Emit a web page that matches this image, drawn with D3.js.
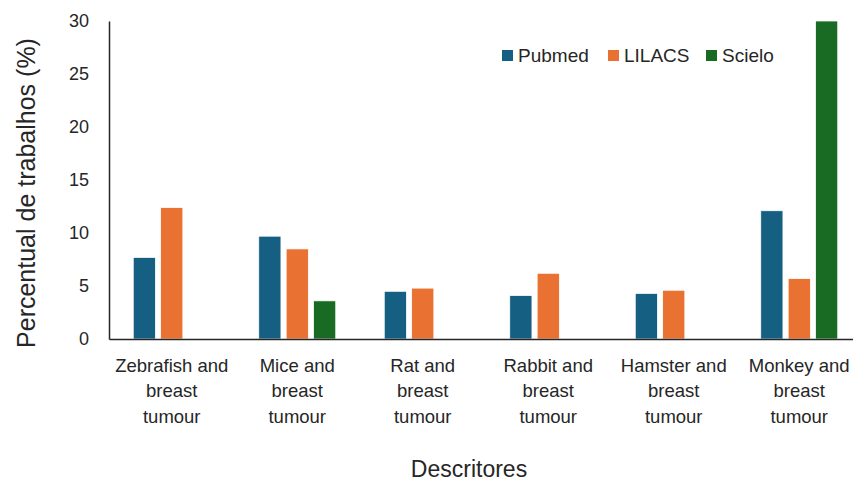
<!DOCTYPE html>
<html>
<head>
<meta charset="utf-8">
<script src="https://cdn.jsdelivr.net/npm/d3@7"></script>
<style>
  body { margin: 0; background: #fff; }
  text { font-family: "Liberation Sans", Arial, sans-serif; fill: #262626; }
</style>
</head>
<body>
<div id="root"></div>
<script>
// chart data
let categories = ['Zebrafish and breast tumour', 'Mice and breast tumour', 'Rat and breast tumour',
  'Rabbit and breast tumour', 'Hamster and breast tumour', 'Monkey and breast tumour'];
let series = ['Pubmed', 'LILACS', 'Scielo'];
let pubmed = [7.7, 9.7, 4.5, 4.1, 4.3, 12.1];
let lilacs = [12.4, 8.5, 4.8, 6.2, 4.6, 5.7];
let scielo = [0, 3.6, 0, 0, 0, 30];
let yTicks = [0, 5, 10, 15, 20, 25, 30];

let width = 853, height = 482;
let margin = {top: 21, left: 109, bottom: 143, right: -9};
let colors = {Pubmed: '#156082', LILACS: '#E97132', Scielo: '#196B24'};

let svg = d3.select('#root')
  .append('svg')
  .attr('width', width)
  .attr('height', height);

// scales
let xScale = d3.scaleBand()
  .domain(categories)
  .range([margin.left, width - margin.right]);

let groupW = 77;
let xSub = d3.scaleBand()
  .domain(series)
  .range([0, groupW])
  .paddingInner(0.19);

let yScale = d3.scaleLinear()
  .domain([0, 30])
  .range([height - margin.bottom, margin.top]);

// y axis
let yAxis = svg.append('g')
  .attr('transform', 'translate(' + [margin.left, 0] + ')')
  .call(d3.axisLeft(yScale).tickValues(yTicks).tickSize(0).tickPadding(20));
yAxis.select('.domain').attr('stroke', '#262626').attr('stroke-width', 1.5);
yAxis.selectAll('text').style('font-size', '18px').attr('fill', '#262626');

// bars
let rows = categories.map((c, i) => ({cat: c, values: [pubmed[i], lilacs[i], scielo[i]]}));
let groups = svg.append('g').selectAll('g')
  .data(rows)
  .enter()
  .append('g')
  .attr('transform', d => 'translate(' + (xScale(d.cat) + (xScale.bandwidth() - groupW) / 2) + ',0)');

groups.selectAll('rect')
  .data(d => d.values.map((v, j) => ({s: series[j], v: v})).filter(e => e.v > 0))
  .enter()
  .append('rect')
  .attr('x', d => xSub(d.s))
  .attr('width', xSub.bandwidth())
  .attr('y', d => yScale(d.v))
  .attr('height', d => yScale(0) - yScale(d.v))
  .attr('fill', d => colors[d.s])
  .attr('stroke', '#fff')
  .attr('stroke-width', 0.75);

// x axis
let xAxis = svg.append('g')
  .attr('transform', 'translate(' + [0, height - margin.bottom] + ')')
  .call(d3.axisBottom(xScale).tickSize(0).tickFormat(''));
xAxis.select('.domain').attr('stroke', '#262626').attr('stroke-width', 1.5);

// wrapped category labels
let lines = c => {
  let w = c.split(' ');
  return [w[0] + ' ' + w[1], w[2], w[3]];
};
svg.append('g').selectAll('text')
  .data(categories)
  .enter()
  .append('text')
  .attr('text-anchor', 'middle')
  .style('font-size', '18.5px')
  .each(function(c) {
    let t = d3.select(this);
    lines(c).forEach((l, k) => {
      t.append('tspan')
        .attr('x', xScale(c) + xScale.bandwidth() / 2)
        .attr('y', 371.5 + k * 25.5)
        .text(l);
    });
  });

// axis titles
svg.append('text')
  .attr('x', 469)
  .attr('y', 477)
  .attr('text-anchor', 'middle')
  .style('font-size', '23px')
  .text('Descritores');

svg.append('text')
  .attr('transform', 'translate(35,193) rotate(-90)')
  .attr('text-anchor', 'middle')
  .style('font-size', '25px')
  .text('Percentual de trabalhos (%)');

// legend
let legendX = [502, 608, 706];
let legend = svg.append('g').selectAll('g')
  .data(series)
  .enter()
  .append('g')
  .attr('transform', (d, i) => 'translate(' + [legendX[i], 50] + ')');
legend.append('rect')
  .attr('width', 11)
  .attr('height', 11)
  .attr('fill', d => colors[d]);
legend.append('text')
  .attr('x', 16)
  .attr('y', 12)
  .style('font-size', '19px')
  .text(d => d);
</script>
</body>
</html>
